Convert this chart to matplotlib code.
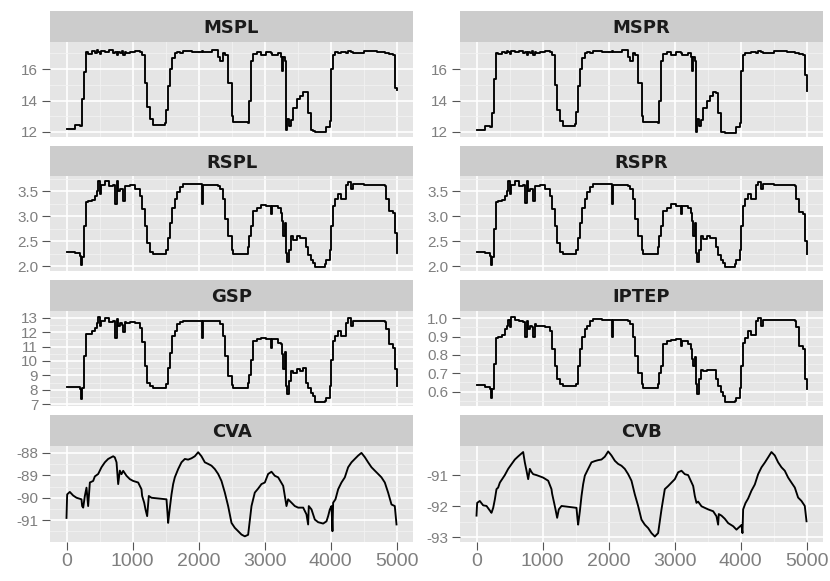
import matplotlib.pyplot as plt
from matplotlib.ticker import MultipleLocator, FormatStrFormatter

plt.rcParams['font.family'] = ['Liberation Sans', 'DejaVu Sans']
plt.rcParams['axes.unicode_minus'] = False

# time index breakpoints for the speed / pressure signals
t = [0, 126, 202, 217, 237, 263, 288, 303, 328, 380, 429, 455, 480, 505, 530,
     581, 640, 700, 732, 758, 785, 808, 835, 859, 885, 909, 960, 1035, 1045, 1111,
     1146, 1187, 1222, 1263, 1313, 1490, 1515, 1540, 1566, 1601, 1641, 1667, 1717, 1768, 1900,
     2055, 2065, 2200, 2298, 2323, 2374, 2409, 2449, 2500, 2525, 2752, 2762, 2793, 2828, 2879,
     2954, 3030, 3106, 3120, 3207, 3257, 3270, 3283, 3308, 3333, 3343, 3368, 3399, 3434, 3485,
     3535, 3586, 3636, 3661, 3702, 3737, 3762, 3914, 3939, 3990, 4015, 4040, 4075, 4116, 4166,
     4242, 4267, 4318, 4343, 4500, 4700, 4823, 4848, 4883, 4949, 4974, 5000]

mspl = [12.2, 12.45, 12.35, 12.35, 14.1, 15.8, 16.9, 17.1, 16.95, 17.15, 17.05, 17.2, 17.1, 16.95, 17.15,
        17.1, 17.2, 17.05, 17.1, 16.9, 17.1, 17.05, 17.15, 16.9, 17.1, 17.05, 17.1, 17.1, 17.15, 17.1,
        16.9, 15.1, 13.6, 12.8, 12.45, 12.55, 13.4, 14.9, 16.0, 16.7, 17.0, 17.1, 17.05, 17.15, 17.1,
        17.15, 17.1, 17.2, 16.8, 16.5, 17.0, 16.9, 15.1, 13.0, 12.65, 12.6, 14.0, 16.5, 16.95, 17.1,
        16.9, 17.1, 17.0, 16.9, 17.05, 16.8, 15.9, 16.8, 16.5, 12.1, 12.8, 12.4, 12.75, 13.5, 14.1,
        14.3, 14.55, 14.55, 13.2, 12.1, 12.05, 12.0, 12.0, 12.3, 12.7, 16.0, 16.9, 17.1, 17.0, 17.1,
        17.05, 17.15, 17.1, 17.05, 17.15, 17.1, 17.05, 17.0, 16.95, 16.9, 14.8, 14.7]

mspr = [12.15, 12.4, 12.3, 12.3, 13.2, 15.4, 16.9, 17.05, 16.95, 17.1, 17.05, 17.15, 17.1, 16.95, 17.15,
        17.1, 17.15, 17.05, 17.1, 16.9, 17.1, 17.05, 17.15, 16.9, 17.1, 17.05, 17.1, 17.1, 17.15, 17.1,
        16.9, 15.0, 13.4, 12.7, 12.4, 12.5, 13.3, 14.9, 16.0, 16.7, 17.0, 17.1, 17.05, 17.15, 17.1,
        17.15, 17.1, 17.2, 16.8, 16.5, 17.0, 16.9, 15.1, 13.0, 12.65, 12.55, 14.0, 16.5, 16.95, 17.1,
        16.9, 17.1, 17.0, 16.9, 17.05, 16.8, 15.9, 16.8, 16.5, 12.0, 12.8, 12.4, 12.75, 13.5, 14.0,
        14.3, 14.55, 14.5, 13.2, 12.0, 12.0, 11.95, 11.95, 12.3, 12.6, 15.9, 16.9, 17.05, 17.0, 17.1,
        17.05, 17.15, 17.1, 17.05, 17.15, 17.1, 17.05, 17.0, 16.95, 16.9, 15.6, 14.6]

rspl = [2.28, 2.26, 2.2, 2.02, 2.19, 2.8, 3.04, 3.28, 3.31, 3.33, 3.4, 3.5, 3.7, 3.45, 3.62,
        3.7, 3.6, 3.62, 3.24, 3.7, 3.5, 3.55, 3.55, 3.31, 3.6, 3.6, 3.62, 3.6, 3.55, 3.41,
        3.14, 2.8, 2.46, 2.29, 2.24, 2.24, 2.33, 2.56, 2.87, 3.17, 3.34, 3.48, 3.58, 3.65, 3.64,
        3.24, 3.63, 3.63, 3.6, 3.55, 3.34, 2.94, 2.6, 2.33, 2.24, 2.39, 2.6, 2.8, 3.1, 3.17,
        3.22, 3.2, 3.04, 3.2, 3.17, 3.07, 2.9, 2.6, 2.87, 2.26, 2.09, 2.33, 2.6, 2.53, 2.6,
        2.56, 2.56, 2.39, 2.22, 2.12, 2.07, 1.99, 2.05, 2.12, 2.33, 2.8, 3.21, 3.34, 3.45, 3.34,
        3.62, 3.68, 3.55, 3.64, 3.63, 3.62, 3.6, 3.34, 3.1, 3.06, 2.67, 2.26]

rspr = [2.28, 2.26, 2.2, 2.02, 2.19, 2.75, 3.04, 3.28, 3.31, 3.33, 3.4, 3.5, 3.7, 3.45, 3.62,
        3.7, 3.6, 3.62, 3.26, 3.7, 3.5, 3.55, 3.55, 3.31, 3.6, 3.6, 3.62, 3.6, 3.55, 3.41,
        3.14, 2.8, 2.46, 2.29, 2.24, 2.24, 2.33, 2.56, 2.87, 3.17, 3.34, 3.48, 3.58, 3.65, 3.64,
        3.24, 3.63, 3.63, 3.6, 3.55, 3.34, 2.94, 2.6, 2.33, 2.24, 2.39, 2.6, 2.8, 3.1, 3.17,
        3.24, 3.2, 3.04, 3.2, 3.17, 3.07, 2.9, 2.6, 2.87, 2.26, 2.09, 2.33, 2.6, 2.55, 2.6,
        2.56, 2.56, 2.39, 2.22, 2.12, 2.07, 1.98, 2.04, 2.12, 2.33, 2.8, 3.21, 3.34, 3.45, 3.34,
        3.62, 3.68, 3.55, 3.64, 3.63, 3.62, 3.6, 3.34, 3.08, 3.05, 2.5, 2.24]

gsp = [8.22, 8.2, 8.09, 7.35, 8.15, 10.35, 11.6, 11.85, 11.9, 12.1, 12.3, 12.6, 13.05, 12.4, 12.8,
       12.95, 12.7, 12.8, 11.6, 12.9, 12.4, 12.6, 12.5, 12.0, 12.7, 12.66, 12.7, 12.66, 12.6, 12.3,
       11.3, 9.66, 8.5, 8.27, 8.15, 8.15, 8.39, 9.54, 10.58, 11.73, 12.08, 12.54, 12.7, 12.77, 12.75,
       11.62, 12.77, 12.75, 12.75, 12.54, 11.73, 10.35, 8.96, 8.32, 8.15, 8.5, 9.0, 10.1, 11.39, 11.55,
       11.6, 11.5, 10.93, 11.5, 11.27, 11.16, 10.5, 9.42, 10.6, 8.27, 7.69, 8.62, 9.3, 9.2, 9.42,
       9.3, 9.54, 8.5, 8.15, 7.8, 7.58, 7.16, 7.2, 7.46, 8.27, 10.1, 11.39, 11.73, 12.08, 11.73,
       12.66, 13.0, 12.43, 12.77, 12.77, 12.75, 12.7, 12.2, 11.16, 10.93, 9.42, 8.27]

iptep = [0.635, 0.627, 0.616, 0.567, 0.613, 0.75, 0.84, 0.895, 0.9, 0.91, 0.94, 0.96, 0.99, 0.95, 1.005,
         0.99, 0.985, 0.98, 0.9, 0.985, 0.94, 0.96, 0.95, 0.9, 0.967, 0.96, 0.96, 0.96, 0.955, 0.93,
         0.83, 0.74, 0.667, 0.64, 0.63, 0.63, 0.64, 0.74, 0.83, 0.9, 0.94, 0.96, 0.985, 0.995, 0.99,
         0.9, 0.99, 0.99, 0.985, 0.967, 0.9, 0.795, 0.70, 0.64, 0.62, 0.64, 0.7, 0.74, 0.86, 0.877,
         0.88, 0.885, 0.85, 0.875, 0.86, 0.83, 0.78, 0.74, 0.79, 0.64, 0.585, 0.667, 0.72, 0.71, 0.72,
         0.715, 0.72, 0.667, 0.63, 0.595, 0.576, 0.545, 0.55, 0.567, 0.62, 0.74, 0.867, 0.895, 0.93, 0.91,
         0.985, 1.0, 0.96, 0.99, 0.99, 0.99, 0.985, 0.95, 0.85, 0.83, 0.667, 0.613]

# time index breakpoints for the two CV signals
tc = [0, 10, 50, 101, 152, 227, 237, 253, 278, 303, 328, 354, 404, 429, 480,
      530, 581, 631, 707, 732, 758, 783, 808, 833, 859, 909, 960, 1010, 1086, 1136,
      1146, 1177, 1197, 1222, 1247, 1288, 1515, 1530, 1540, 1566, 1591, 1616, 1641, 1692, 1742,
      1793, 1843, 1894, 1944, 1995, 2045, 2096, 2146, 2197, 2247, 2298, 2348, 2399, 2449, 2500,
      2550, 2601, 2651, 2702, 2752, 2803, 2853, 2904, 2954, 3005, 3055, 3106, 3156, 3207, 3283,
      3308, 3333, 3358, 3409, 3459, 3510, 3586, 3636, 3661, 3671, 3712, 3762, 3813, 3889, 3939,
      3964, 3990, 4015, 4030, 4040, 4075, 4116, 4166, 4217, 4267, 4318, 4368, 4419, 4469, 4520,
      4570, 4621, 4671, 4722, 4772, 4823, 4873, 4924, 4974, 5000]

cva = [-90.9, -89.85, -89.74, -89.9, -90.0, -90.07, -90.37, -90.44, -89.92, -89.55, -90.37, -89.32, -89.25, -89.05, -88.94,
       -88.64, -88.42, -88.27, -88.15, -88.2, -88.42, -89.39, -88.79, -88.95, -88.8, -89.02, -89.17, -89.25, -89.32, -89.62,
       -89.92, -90.22, -90.52, -90.82, -89.92, -90.0, -90.07, -90.67, -91.12, -90.44, -89.85, -89.39, -89.09, -88.72, -88.42,
       -88.27, -88.3, -88.24, -88.15, -87.97, -88.15, -88.42, -88.49, -88.57, -88.72, -88.94, -89.25, -89.77, -90.37, -91.12,
       -91.34, -91.49, -91.64, -91.72, -91.65, -90.37, -89.77, -89.59, -89.39, -89.32, -88.94, -88.84, -89.02, -89.09, -89.47,
       -89.92, -90.37, -90.07, -90.22, -90.37, -90.44, -90.44, -90.74, -91.19, -90.37, -90.52, -90.97, -91.09, -91.15, -91.05,
       -90.82, -90.52, -90.37, -91.49, -90.22, -90.07, -89.62, -89.32, -89.09, -88.64, -88.42, -88.27, -88.12, -88.0, -88.19,
       -88.42, -88.64, -88.79, -88.94, -89.09, -89.32, -89.77, -90.3, -90.37, -91.19]

cvb = [-92.3, -91.89, -91.83, -91.97, -91.99, -92.21, -92.15, -92.05, -91.78, -91.45, -91.4, -91.24, -91.08, -91.0, -90.8,
       -90.65, -90.5, -90.4, -90.26, -90.59, -90.86, -91.13, -90.8, -90.9, -90.97, -91.0, -91.04, -91.08, -91.18, -91.45,
       -91.6, -91.9, -92.1, -92.37, -92.1, -91.99, -92.05, -92.4, -92.59, -92.16, -91.67, -91.29, -91.02, -90.8, -90.59,
       -90.55, -90.52, -90.5, -90.41, -90.24, -90.37, -90.54, -90.64, -90.7, -90.8, -90.97, -91.18, -91.62, -91.99, -92.43,
       -92.59, -92.7, -92.86, -92.97, -92.86, -92.1, -91.45, -91.35, -91.24, -91.13, -90.91, -90.86, -90.97, -91.0, -91.35,
       -91.67, -91.89, -91.85, -92.0, -92.05, -92.1, -92.16, -92.32, -92.59, -92.25, -92.3, -92.4, -92.54, -92.64, -92.75,
       -92.7, -92.65, -92.6, -92.86, -92.1, -91.9, -91.75, -91.5, -91.3, -90.97, -90.75, -90.6, -90.43, -90.26, -90.37,
       -90.59, -90.75, -90.86, -91.08, -91.24, -91.4, -91.72, -91.83, -91.99, -92.48]

x_ticks = [0, 1000, 2000, 3000, 4000, 5000]

# name, x, y, y tick step, tick format, y limits, step-style drawing
facets = [
    ("MSPL", t, mspl, 2, "%d", (11.68, 17.73), True),
    ("MSPR", t, mspr, 2, "%d", (11.68, 17.73), True),
    ("RSPL", t, rspl, 0.5, "%.1f", (1.90, 3.79), True),
    ("RSPR", t, rspr, 0.5, "%.1f", (1.90, 3.79), True),
    ("GSP", t, gsp, 1, "%d", (6.88, 13.46), True),
    ("IPTEP", t, iptep, 0.1, "%.1f", (0.521, 1.04), True),
    ("CVA", tc, cva, 1, "%d", (-91.95, -87.67), False),
    ("CVB", tc, cvb, 1, "%d", (-93.13, -90.05), False),
]

W, H = 830, 581
fig = plt.figure(figsize=(W / 100, H / 100), dpi=100)


def box(x0, y0, x1, y1):
    return [x0 / W, 1 - y1 / H, (x1 - x0) / W, (y1 - y0) / H]


cols = [(50, 413), (460, 823)]
rows = [(11, 42, 137), (145.5, 176.5, 271.5), (280, 311, 406), (414.5, 445.5, 541.5)]

for i, (name, xs, ys, step, fmt, lim, stepped) in enumerate(facets):
    r, c = divmod(i, 2)
    x0, x1 = cols[c]
    top, mid, bot = rows[r]

    # strip
    sa = fig.add_axes(box(x0, top, x1, mid))
    sa.set_facecolor('#CCCCCC')
    sa.set_xticks([])
    sa.set_yticks([])
    for s in sa.spines.values():
        s.set_visible(False)
    sa.text(0.5, 0.45, name, ha='center', va='center', fontsize=13,
            fontweight='bold', family='DejaVu Sans', color='#1A1A1A',
            transform=sa.transAxes)

    # panel
    ax = fig.add_axes(box(x0, mid, x1, bot))
    ax.set_facecolor('#E5E5E5')
    for s in ax.spines.values():
        s.set_visible(False)
    if stepped:
        ax.step(xs, ys, where='post', color='black', lw=1.35)
    else:
        ax.plot(xs, ys, color='black', lw=1.35)
    ax.set_xlim(-250, 5250)
    ax.set_ylim(*lim)

    ax.set_xticks(x_ticks)
    ax.xaxis.set_minor_locator(MultipleLocator(500))
    ax.yaxis.set_major_locator(MultipleLocator(step))
    ax.yaxis.set_minor_locator(MultipleLocator(step / 2))
    ax.yaxis.set_major_formatter(FormatStrFormatter(fmt))

    ax.set_axisbelow(True)
    ax.grid(which='major', color='white', lw=1.2)
    ax.grid(which='minor', color='#F2F2F2', lw=0.6)
    ax.tick_params(which='minor', length=0)
    ax.tick_params(axis='y', which='major', length=5.5, width=0.8, color='#555555',
                   labelcolor='#7F7F7F', labelsize=11, pad=3)
    if r == 3:
        ax.tick_params(axis='x', which='major', length=5.5, width=0.8, color='#555555',
                       labelcolor='#7F7F7F', labelsize=14, pad=3)
    else:
        ax.tick_params(axis='x', which='major', length=0, labelbottom=False)

fig.savefig('out.png', dpi=100)
